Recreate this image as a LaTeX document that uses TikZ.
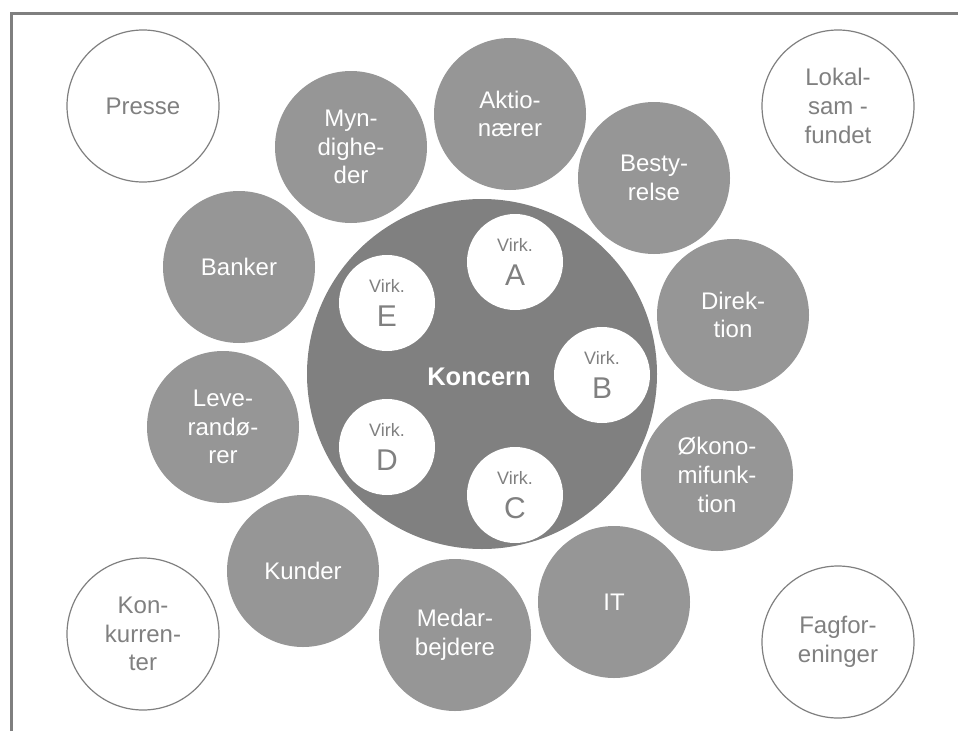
\documentclass[tikz,border=0pt]{standalone}
\usepackage{fontspec}
\setmainfont{Liberation Sans}
\usetikzlibrary{calc}
\definecolor{outerfill}{HTML}{969696}
\definecolor{corefill}{HTML}{808080}
\definecolor{linegrey}{HTML}{7F7F7F}
\definecolor{textgrey}{HTML}{808080}
\tikzset{
  ring/.style={circle, fill=outerfill, draw=none, minimum size=152pt, inner sep=0pt,
    text=white, align=center, font=\fontsize{24}{28.8}\selectfont},
  outside/.style={circle, fill=white, draw=linegrey, line width=1.2pt, minimum size=152pt, inner sep=0pt,
    text=textgrey, align=center, font=\fontsize{24}{28.8}\selectfont},
  core/.style={circle, fill=corefill, draw=none, minimum size=350pt, inner sep=0pt},
  virk/.style={circle, fill=white, draw=none, minimum size=96pt, inner sep=0pt},
  virksmall/.style={anchor=base, text=textgrey, inner sep=0pt, font=\fontsize{18}{20}\selectfont},
  virkbig/.style={anchor=base, text=textgrey, inner sep=0pt, font=\fontsize{30}{33}\selectfont},
  frameline/.style={draw=linegrey, line width=3pt}
}
\begin{document}
\begin{tikzpicture}[x=1pt,y=-1pt]
\useasboundingbox (0,0) rectangle (958,731);
\coordinate (fa) at (11,731);
\coordinate (fb) at (11,13.5);
\coordinate (fc) at (958,13.5);
\draw[frameline] (fa) -- (fb) -- (fc);

% outside circles
\node[outside] (presse) at (143,106) {Presse};
\node[outside] (lokal) at (838,106) {Lokal-\\sam -\\fundet};
\node[outside] (konk) at (143,634) {Kon-\\kurren-\\ter};
\node[outside] (fag) at (838,642) {Fagfor-\\eninger};

% ring circles
\node[ring] (mynd) at (351,147) {Myn-\\dighe-\\der};
\node[ring] (aktio) at (510,114) {Aktio-\\nærer};
\node[ring] (besty) at (654,178) {Besty-\\relse};
\node[ring] (direk) at (733,315) {Direk-\\tion};
\node[ring] (oekon) at (717,475) {Økono-\\mifunk-\\tion};
\node[ring] (it) at (614,602) {IT};
\node[ring] (medar) at (455,635) {Medar-\\bejdere};
\node[ring] (kunder) at (303,571) {Kunder};
\node[ring] (lever) at (223,427) {Leve-\\randø-\\rer};
\node[ring] (banker) at (239,267) {Banker};

% core
\node[core] (koncern) at (482,374) {};
\node[text=white, font=\bfseries\fontsize{25.5}{30}\selectfont] (koncernlabel) at (479,377) {Koncern};

\foreach \n/\x/\y in {A/515/262, B/602/375, C/515/495, D/387/447, E/387/303}{
  \node[virk] (v\n) at (\x,\y) {};
  \node[virksmall] (v\n s) at ($(v\n)+(0,-11)$) {Virk.};
  \node[virkbig] (v\n b) at ($(v\n)+(0,23)$) {\n};
}
\end{tikzpicture}
\end{document}
